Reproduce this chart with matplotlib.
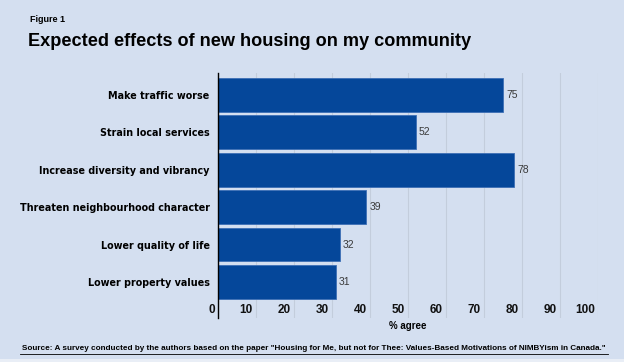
import matplotlib.pyplot as plt
from matplotlib.lines import Line2D
from matplotlib.patches import Rectangle
from matplotlib.transforms import blended_transform_factory

categories = ["Make traffic worse", "Strain local services", "Increase diversity and vibrancy",
              "Threaten neighbourhood character", "Lower quality of life", "Lower property values"]
values = [75, 52, 78, 39, 32, 31]
xticks = [0, 10, 20, 30, 40, 50, 60, 70, 80, 90, 100]

bg = "#d4dff0"
barcol = "#05479a"

fig = plt.figure(figsize=(6.24, 3.62), dpi=100)
fig.patch.set_facecolor(bg)
# thin light strip at the very bottom
fig.add_artist(Rectangle((0, 0), 1, 3/362, transform=fig.transFigure, color="#e9eef6", lw=0))

# axes: x 218..598 px, y 73..318 px
ax = fig.add_axes([218/624, 1 - 318/362, 380/624, 245/362])
ax.set_facecolor(bg)

ypos = list(range(len(categories)))
ax.barh(ypos, values, height=0.9, color=barcol, edgecolor="#3d6fb5", linewidth=0.6, zorder=3)
ax.set_ylim(5.96, -0.58)
ax.set_xlim(0, 100)

for y, v in zip(ypos, values):
    ax.text(v + 0.8, y, str(v), va="center", ha="left", fontsize=7.5, color="#3a3a3a",
            family="Liberation Sans")

ax.set_yticks(ypos)
ax.set_yticklabels(categories, fontsize=6.9, fontweight="bold", family="DejaVu Sans")
ax.tick_params(axis="y", length=0, pad=6)

ax.set_xticks(xticks)
ax.set_xticklabels([])
ax.tick_params(axis="x", length=0)
ax.grid(axis="x", color="#c3cddc", linewidth=0.8, zorder=0)

tr = blended_transform_factory(ax.transData, ax.transAxes)
for t in xticks:
    ax.text(t - 0.8, 0.01, str(t), transform=tr, ha="right", va="bottom", fontsize=8.5,
            fontweight="bold", family="Liberation Sans", color="#111111")

for s in ["top", "right", "bottom"]:
    ax.spines[s].set_visible(False)
ax.spines["left"].set_color("black")
ax.spines["left"].set_linewidth(1.0)
ax.spines["left"].set_zorder(5)

fig.text(408/624, 1 - 326/362, "% agree", ha="center", va="center", fontsize=7,
         fontweight="bold", family="Liberation Sans")

fig.text(30/624, 1 - 19/362, "Figure 1", ha="left", va="center", fontsize=6.5,
         fontweight="bold", family="Liberation Sans")
fig.text(28/624, 1 - 42/362, "Expected effects of new housing on my community", ha="left",
         va="center", fontsize=13.1, fontweight="bold", family="Liberation Sans")

src = ('Source: A survey conducted by the authors based on the paper "Housing for Me, but not for Thee: '
       'Values-Based Motivations of NIMBYism in Canada."')
fig.text(314/624, 1 - 349/362, src, ha="center", va="center", fontsize=5.82,
         fontweight="bold", family="Liberation Sans")
fig.add_artist(Line2D([20/624, 608/624], [1 - 353.5/362, 1 - 353.5/362], color="black", linewidth=0.6))

fig.savefig("out.png", dpi=100, facecolor=bg)
